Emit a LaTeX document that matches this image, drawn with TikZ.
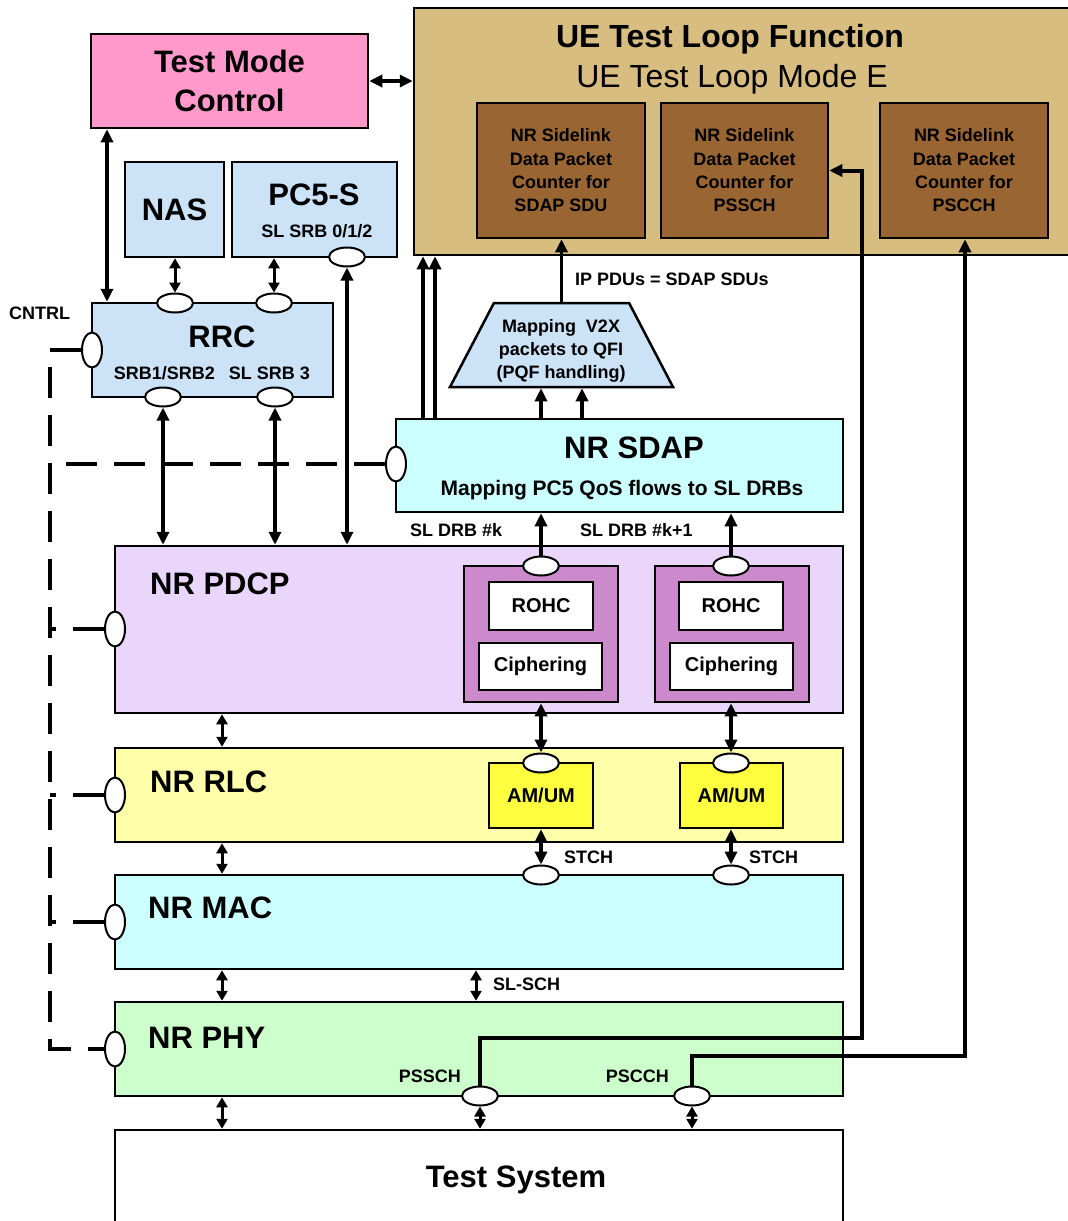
\documentclass[tikz,border=0pt]{standalone}
\usepackage{fontspec}
\setmainfont{Liberation Sans}
\usetikzlibrary{arrows.meta, shapes.geometric}

\definecolor{tmcpink}{HTML}{FF99CC}
\definecolor{uetan}{HTML}{D8BD80}
\definecolor{cntbrown}{HTML}{996633}
\definecolor{nasblue}{HTML}{CCE2F6}
\definecolor{sdapcyan}{HTML}{CCFFFF}
\definecolor{pdcpviolet}{HTML}{E9D6FA}
\definecolor{pdcpdark}{HTML}{CC8ACC}
\definecolor{rlcyellow}{HTML}{FFFFAA}
\definecolor{amyellow}{HTML}{FFFF40}
\definecolor{phygreen}{HTML}{CCFFCC}

\newcommand{\uetxt}{\fontsize{32}{40}\selectfont\bfseries}
\newcommand{\uereg}{\fontsize{32}{40}\selectfont}
\newcommand{\hugetxt}{\fontsize{31}{39}\selectfont\bfseries}
\newcommand{\sdaptxt}{\fontsize{21}{25}\selectfont\bfseries}
\newcommand{\midtxt}{\fontsize{20}{24}\selectfont\bfseries}
\newcommand{\smalltxt}{\fontsize{18}{23.3}\selectfont\bfseries}

\tikzset{
  box/.style={draw, line width=2.5pt, inner sep=0pt, align=center},
  layer/.style={box, minimum width=728pt},
  cntbox/.style={box, fill=cntbrown, minimum height=135pt, font=\smalltxt},
  wbox/.style={box, fill=white, font=\midtxt},
  port/.style={ellipse, draw, fill=white, line width=2pt, minimum width=36pt, minimum height=19pt, inner sep=0pt},
  vport/.style={port, minimum width=20pt, minimum height=35pt},
  arr/.style={line width=3.5pt, -{Triangle[length=13pt,width=12pt]}},
  dbl/.style={line width=3.5pt, {Triangle[length=13pt,width=12pt]}-{Triangle[length=13pt,width=12pt]}},
  sdbl/.style={line width=3pt, {Triangle[length=10pt,width=11pt]}-{Triangle[length=10pt,width=11pt]}},
  route/.style={line width=4pt, -{Triangle[length=13pt,width=12pt]}},
  ctrl/.style={line width=4.5pt, dash pattern=on 31pt off 17pt},
  lbl/.style={inner sep=0pt, font=\smalltxt},
}

\begin{document}
\begin{tikzpicture}[x=1pt, y=-1pt]
    \useasboundingbox (0,0) rectangle (1068,1221);

    % Test loop function and its counters
    \node[box, fill=uetan, minimum width=661pt, minimum height=247pt] (uetl) at (744.5,131.5) {};
    \node[anchor=base, inner sep=0pt, font=\uetxt] (uetitle) at (730,47) {UE Test Loop Function};
    \node[anchor=base, inner sep=0pt, font=\uereg] (uemode) at (732,87) {UE Test Loop Mode E};
    \node[cntbox, minimum width=168pt] (cnt1) at (561,170.5) {NR Sidelink\\Data Packet\\Counter for\\SDAP SDU};
    \node[cntbox, minimum width=167pt] (cnt2) at (744.5,170.5) {NR Sidelink\\Data Packet\\Counter for\\PSSCH};
    \node[cntbox, minimum width=168pt] (cnt3) at (964,170.5) {NR Sidelink\\Data Packet\\Counter for\\PSCCH};

    % Test mode control
    \node[box, fill=tmcpink, minimum width=277pt, minimum height=94pt, font=\hugetxt] (tmc) at (229.5,81) {Test Mode\\Control};

    % Control plane boxes
    \node[box, fill=nasblue, minimum width=99pt, minimum height=95pt, font=\hugetxt] (nas) at (174.5,209.5) {NAS};
    \node[box, fill=nasblue, minimum width=165pt, minimum height=95pt] (pc5) at (314.5,209.5) {};
    \node[anchor=base, inner sep=0pt, font=\hugetxt] (pc5txt) at (314,205) {PC5-S};
    \node[anchor=base, lbl] (pc5srb) at (317,237) {SL SRB 0/1/2};
    \node[box, fill=nasblue, minimum width=241pt, minimum height=94pt] (rrc) at (212.5,350) {};
    \node[anchor=base, inner sep=0pt, font=\hugetxt] (rrctxt) at (222,347) {RRC};
    \node[anchor=base, lbl] (rrcsrb) at (212,379) {SRB1/SRB2\hspace{9pt} SL SRB 3};
    \node[anchor=base west, lbl] (cntrl) at (9,319) {CNTRL};

    % QFI mapping and SDAP
    \node[trapezium, draw, fill=nasblue, line width=2.5pt, inner sep=1pt,
          trapezium left angle=72, trapezium right angle=72, trapezium stretches=true,
          minimum width=223pt, minimum height=84pt] (qfi) at (561.5,345) {};
    \node[lbl, align=center] (qfitxt) at (561,351) {Mapping\hspace{5pt} V2X\\packets to QFI\\(PQF handling)};
    \node[anchor=base west, lbl] (ippdu) at (575,285) {IP PDUs = SDAP SDUs};
    \node[box, fill=sdapcyan, minimum width=447pt, minimum height=93pt] (sdap) at (619.5,465.5) {};
    \node[anchor=base, inner sep=0pt, font=\hugetxt] (sdaptitle) at (634,458) {NR SDAP};
    \node[anchor=base, inner sep=0pt, font=\sdaptxt] (sdapmap) at (622,495) {Mapping PC5 QoS flows to SL DRBs};
    \node[anchor=base west, lbl] (drbk) at (410,536) {SL DRB \#k};
    \node[anchor=base west, lbl] (drbk1) at (580,536) {SL DRB \#k+1};

    % PDCP
    \node[layer, fill=pdcpviolet, minimum height=167pt] (pdcp) at (479,629.5) {};
    \node[anchor=base west, inner sep=0pt, font=\hugetxt] (pdcptxt) at (150,594) {NR PDCP};
    \node[box, fill=pdcpdark, minimum width=154pt, minimum height=136pt] (pd1) at (541,634) {};
    \node[box, fill=pdcpdark, minimum width=154pt, minimum height=136pt] (pd2) at (732,634) {};
    \node[wbox, minimum width=104pt, minimum height=48pt] (rohc1) at (541,606) {ROHC};
    \node[wbox, minimum width=123pt, minimum height=47pt] (ciph1) at (540.5,666.5) {Ciphering};
    \node[wbox, minimum width=104pt, minimum height=48pt] (rohc2) at (731,606) {ROHC};
    \node[wbox, minimum width=123pt, minimum height=47pt] (ciph2) at (731.5,666.5) {Ciphering};

    % RLC, MAC, PHY and the test system
    \node[layer, fill=rlcyellow, minimum height=94pt] (rlc) at (479,795) {};
    \node[anchor=base west, inner sep=0pt, font=\hugetxt] (rlctxt) at (150,792) {NR RLC};
    \node[box, fill=amyellow, minimum width=104pt, minimum height=65pt, font=\midtxt] (am1) at (541,795.5) {AM/UM};
    \node[box, fill=amyellow, minimum width=103pt, minimum height=65pt, font=\midtxt] (am2) at (731.5,795.5) {AM/UM};
    \node[layer, fill=sdapcyan, minimum height=94pt] (mac) at (479,922) {};
    \node[anchor=base west, inner sep=0pt, font=\hugetxt] (mactxt) at (148,918) {NR MAC};
    \node[layer, fill=phygreen, minimum height=94pt] (phy) at (479,1049) {};
    \node[anchor=base west, inner sep=0pt, font=\hugetxt] (phytxt) at (148,1048) {NR PHY};
    \node[layer, fill=white, minimum height=110pt] (ts) at (479,1185) {};
    \node[anchor=base, inner sep=0pt, font=\hugetxt] (tstxt) at (516,1187) {Test System};

    % Ports
    \node[port] (nasp) at (175,303) {};
    \node[port] (pc5p) at (274,303) {};
    \node[port] (pc5b) at (347,257) {};
    \node[port] (rrcb1) at (163,397) {};
    \node[port] (rrcb2) at (275,397) {};
    \node[vport] (rrcl) at (92,350) {};
    \node[vport] (sdapl) at (396,464) {};
    \node[port] (pk1) at (541,566) {};
    \node[port] (pk2) at (731,566) {};
    \node[vport] (pdcpl) at (115,629) {};
    \node[port] (am1p) at (541,763) {};
    \node[port] (am2p) at (731,763) {};
    \node[vport] (rlcl) at (115,795) {};
    \node[port] (mac1p) at (541,875) {};
    \node[port] (mac2p) at (731,875) {};
    \node[vport] (macl) at (115,922) {};
    \node[vport] (phyl) at (115,1049) {};
    \node[port] (pssp) at (480,1096) {};
    \node[port] (pscp) at (692,1096) {};

    % Columns of the vertical links
    \coordinate (tmcx) at (107,0);
    \coordinate (upx1) at (423,0);
    \coordinate (upx2) at (435,0);
    \coordinate (qinx) at (582,0);
    \coordinate (lx) at (222,0);
    \coordinate (slx) at (476,0);
    \coordinate (pssturn) at (862,1038);
    \coordinate (pscturn) at (965,1056);
    \coordinate (cbustop) at (50,350);
    \coordinate (cbusbot) at (50,1049);

    % Control plane links
    \draw[dbl] (tmc.east) -- (tmc.east -| uetl.west);
    \draw[dbl] (tmcx |- tmc.south) -- (tmcx |- rrc.north);
    \draw[sdbl] (nasp.north |- nas.south) -- (nasp.north);
    \draw[sdbl] (pc5p.north |- pc5.south) -- (pc5p.north);
    \draw[dbl] (pc5b.south) -- (pc5b.south |- pdcp.north);
    \draw[dbl] (rrcb1.south) -- (rrcb1.south |- pdcp.north);
    \draw[dbl] (rrcb2.south) -- (rrcb2.south |- pdcp.north);

    % SDAP links
    \draw[arr] (upx1 |- sdap.north) -- (upx1 |- uetl.south);
    \draw[arr] (upx2 |- sdap.north) -- (upx2 |- uetl.south);
    \draw[arr] (pk1.north |- sdap.north) -- (pk1.north |- qfi.south);
    \draw[arr] (qinx |- sdap.north) -- (qinx |- qfi.south);
    \draw[arr] (qfi.north) -- (qfi.north |- cnt1.south);
    \draw[arr] (pk1.north) -- (pk1.north |- sdap.south);
    \draw[arr] (pk2.north) -- (pk2.north |- sdap.south);

    % Data links down the stack
    \draw[dbl] (am1p.north |- pd1.south) -- (am1p.north);
    \draw[dbl] (am2p.north |- pd2.south) -- (am2p.north);
    \draw[dbl] (mac1p.north |- am1.south) -- (mac1p.north);
    \draw[dbl] (mac2p.north |- am2.south) -- (mac2p.north);
    \node[anchor=base west, lbl] (stch1) at (564,863) {STCH};
    \node[anchor=base west, lbl] (stch2) at (749,863) {STCH};
    \foreach \a/\b in {pdcp/rlc, rlc/mac, mac/phy, phy/ts}
        \draw[sdbl] (lx |- \a.south) -- (lx |- \b.north);
    \draw[sdbl] (slx |- mac.south) -- (slx |- phy.north);
    \node[anchor=base west, lbl] (slsch) at (493,990) {SL-SCH};
    \draw[sdbl] (pssp.south) -- (pssp.south |- ts.north);
    \draw[sdbl] (pscp.south) -- (pscp.south |- ts.north);
    \node[anchor=base east, lbl] (psschtxt) at (461,1082) {PSSCH};
    \node[anchor=base east, lbl] (pscchtxt) at (669,1082) {PSCCH};

    % Loop back to the counters
    \draw[route] (pssp.north) |- (pssturn) |- (cnt2.east);
    \draw[route] (pscp.north) |- (pscturn) -- (pscturn |- cnt3.south);

    % Control lines
    \draw[ctrl] (rrcl.west) -- (cbustop) -- (cbusbot) -- (phyl.west);
    \foreach \p in {sdapl, pdcpl, rlcl, macl}
        \draw[ctrl] (\p.west) -- (cbustop |- \p.west);

\end{tikzpicture}
\end{document}
